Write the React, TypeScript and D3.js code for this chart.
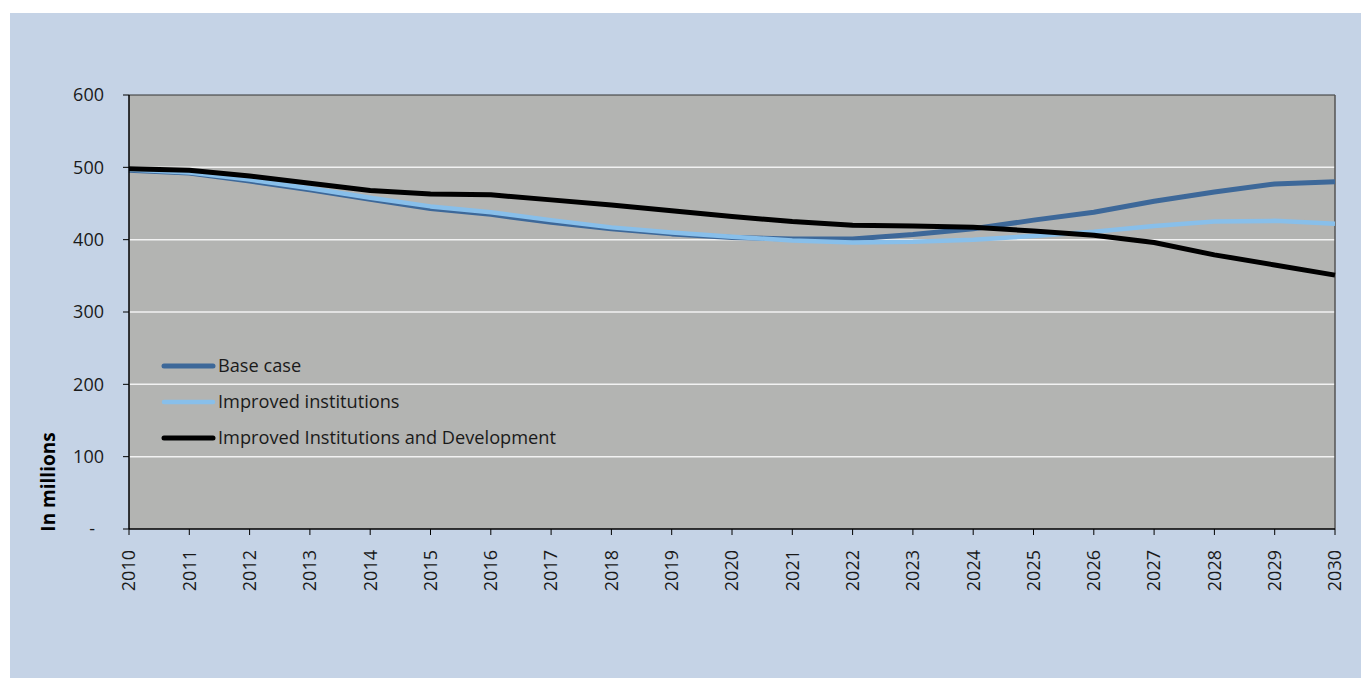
import React from "react";
import * as d3 from "d3";

const years = [2010,2011,2012,2013,2014,2015,2016,2017,2018,2019,2020,2021,2022,2023,2024,2025,2026,2027,2028,2029,2030];
const baseCase = [496,492,481,469,456,443,435,424,415,408,403,401,401,407,415,427,438,453,466,477,480];
const improvedInstitutions = [497,493,483,471,458,446,438,427,417,410,404,399,396,397,400,405,411,419,425,426,422];
const improvedDevelopment = [498,496,488,478,468,463,462,455,448,440,432,425,420,419,417,412,406,396,379,365,351];
const yTicks = [0,100,200,300,400,500,600];
const yTickLabels = ["-","100","200","300","400","500","600"];
const seriesNames = ["Base case","Improved institutions","Improved Institutions and Development"];
const seriesColors = ["#3d6899","#88bfea","#000000"];
const seriesWidths = [5,4.5,5];

const W = 1361, H = 678;
const plot = { left: 129, right: 1335, top: 95, bottom: 529 };
const FONT = "'Open Sans', 'Noto Sans', sans-serif";

export default function App() {
  const x = d3.scaleLinear().domain([2010, 2030]).range([plot.left, plot.right]);
  const y = d3.scaleLinear().domain([0, 600]).range([plot.bottom, plot.top]);
  const all = [baseCase, improvedInstitutions, improvedDevelopment];
  const line = d3.line<number>().x((_, i) => x(years[i])).y(d => y(d)).curve(d3.curveLinear);
  const legendY = [366, 402, 438];

  return (
    <div style={{ position: "fixed", left: 0, top: 0, width: W, height: H, background: "#fff" }}>
      <svg width={W} height={H} style={{ display: "block" }}>
        <rect x={10} y={13} width={W - 10} height={H - 13} fill="#c5d3e6" />
        <rect x={plot.left} y={plot.top} width={plot.right - plot.left} height={plot.bottom - plot.top} fill="#b3b4b2" />
        {yTicks.filter(t => t > 0 && t < 600).map(t => (
          <line key={t} x1={plot.left} x2={plot.right} y1={y(t)} y2={y(t)} stroke="#f2f2f2" strokeWidth={1.5} />
        ))}
        <line x1={plot.left} x2={plot.right} y1={plot.top} y2={plot.top} stroke="#333" strokeWidth={1} />
        <line x1={plot.right} x2={plot.right} y1={plot.top} y2={plot.bottom} stroke="#555" strokeWidth={1.5} />
        {all.map((s, i) => (
          <path key={i} d={line(s) || ""} fill="none" stroke={seriesColors[i]} strokeWidth={seriesWidths[i]} strokeLinejoin="round" />
        ))}
        <line x1={plot.left} x2={plot.left} y1={plot.top} y2={plot.bottom} stroke="#000" strokeWidth={1.5} />
        <line x1={plot.left} x2={plot.right} y1={plot.bottom} y2={plot.bottom} stroke="#000" strokeWidth={1.5} />
        {yTicks.map((t, i) => (
          <g key={t}>
            <line x1={plot.left - 6} x2={plot.left} y1={y(t)} y2={y(t)} stroke="#000" strokeWidth={1} />
            <text x={t === 0 ? 95 : 104} y={y(t)} dy="0.35em" textAnchor="end" fontFamily={FONT} fontSize={18} fill="#1a1a1a">{yTickLabels[i]}</text>
          </g>
        ))}
        {years.map(yr => (
          <g key={yr}>
            <line x1={x(yr)} x2={x(yr)} y1={plot.bottom} y2={plot.bottom + 6} stroke="#000" strokeWidth={1} />
            <text transform={`translate(${x(yr)},${plot.bottom + 21}) rotate(-90)`} dy="0.35em" textAnchor="end" fontFamily={FONT} fontSize={18} fill="#1a1a1a">{yr}</text>
          </g>
        ))}
        <text transform={`translate(48,482) rotate(-90)`} dy="0.35em" textAnchor="middle" fontFamily={FONT} fontWeight="bold" fontSize={19} fill="#000">In millions</text>
        {seriesNames.map((n, i) => (
          <g key={n}>
            <line x1={164} x2={213} y1={legendY[i]} y2={legendY[i]} stroke={seriesColors[i]} strokeWidth={seriesWidths[i]} strokeLinecap="round" />
            <text x={218} y={legendY[i]} dy="0.35em" fontFamily={FONT} fontSize={18.2} fill="#1a1a1a">{n}</text>
          </g>
        ))}
      </svg>
    </div>
  );
}
